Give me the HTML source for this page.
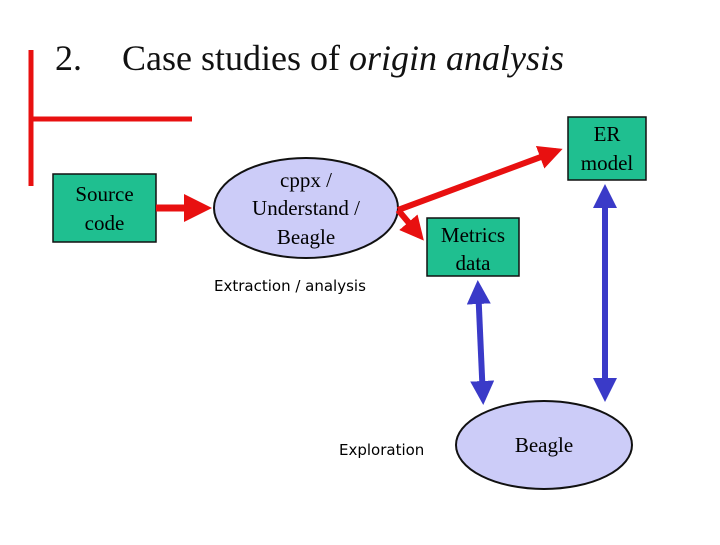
<!DOCTYPE html>
<html><head><style>
body{margin:0;width:720px;height:540px;background:#fff;overflow:hidden}
</style></head><body>
<svg width="720" height="540" xmlns="http://www.w3.org/2000/svg">
<defs>
<marker id="r" markerWidth="4" markerHeight="4" refX="3" refY="2" orient="auto" markerUnits="strokeWidth"><path d="M0,0 L4,2 L0,4 Z" fill="#e81010"/></marker>
<marker id="b" markerWidth="4" markerHeight="4" refX="3" refY="2" orient="auto-start-reverse" markerUnits="strokeWidth"><path d="M0,0 L4,2 L0,4 Z" fill="#3a3ac8"/></marker>
</defs>
<text x="55" y="70" font-family="Liberation Serif, serif" font-size="36" fill="#111">2.<tspan x="122">Case studies of </tspan><tspan font-style="italic">origin analysis</tspan></text>
<line x1="31" y1="50" x2="31" y2="186" stroke="#e81010" stroke-width="5"/>
<line x1="29" y1="119" x2="192" y2="119" stroke="#e81010" stroke-width="5"/>
<rect x="53" y="174" width="103" height="68" fill="#1fbf90" stroke="#111" stroke-width="1.5"/>
<text x="104.5" y="201" text-anchor="middle" font-family="Liberation Serif, serif" font-size="21">Source</text>
<text x="104.5" y="230" text-anchor="middle" font-family="Liberation Serif, serif" font-size="21">code</text>
<ellipse cx="306" cy="208" rx="92" ry="50" fill="#ccccf8" stroke="#111" stroke-width="2"/>
<text x="306" y="187" text-anchor="middle" font-family="Liberation Serif, serif" font-size="21">cppx /</text>
<text x="306" y="215" text-anchor="middle" font-family="Liberation Serif, serif" font-size="21">Understand /</text>
<text x="306" y="244" text-anchor="middle" font-family="Liberation Serif, serif" font-size="21">Beagle</text>
<rect x="427" y="218" width="92" height="58" fill="#1fbf90" stroke="#111" stroke-width="1.5"/>
<text x="473" y="242" text-anchor="middle" font-family="Liberation Serif, serif" font-size="21">Metrics</text>
<text x="473" y="270" text-anchor="middle" font-family="Liberation Serif, serif" font-size="21">data</text>
<rect x="568" y="117" width="78" height="63" fill="#1fbf90" stroke="#111" stroke-width="1.5"/>
<text x="607" y="141" text-anchor="middle" font-family="Liberation Serif, serif" font-size="21">ER</text>
<text x="607" y="170" text-anchor="middle" font-family="Liberation Serif, serif" font-size="21">model</text>
<ellipse cx="544" cy="445" rx="88" ry="44" fill="#ccccf8" stroke="#111" stroke-width="2"/>
<text x="544" y="452" text-anchor="middle" font-family="Liberation Serif, serif" font-size="21">Beagle</text>
<text x="214" y="291" font-family="DejaVu Sans, sans-serif" font-size="15">Extraction / analysis</text>
<text x="339" y="455" font-family="DejaVu Sans, sans-serif" font-size="15">Exploration</text>
<line x1="156" y1="208" x2="205" y2="208" stroke="#e81010" stroke-width="7" marker-end="url(#r)"/>
<line x1="398" y1="210" x2="557" y2="151" stroke="#e81010" stroke-width="6" marker-end="url(#r)"/>
<line x1="398" y1="210" x2="420" y2="236" stroke="#e81010" stroke-width="6" marker-end="url(#r)"/>
<line x1="478" y1="286" x2="483" y2="399" stroke="#3a3ac8" stroke-width="6" marker-start="url(#b)" marker-end="url(#b)"/>
<line x1="605" y1="190" x2="605" y2="396" stroke="#3a3ac8" stroke-width="6" marker-start="url(#b)" marker-end="url(#b)"/>
</svg>
</body></html>
